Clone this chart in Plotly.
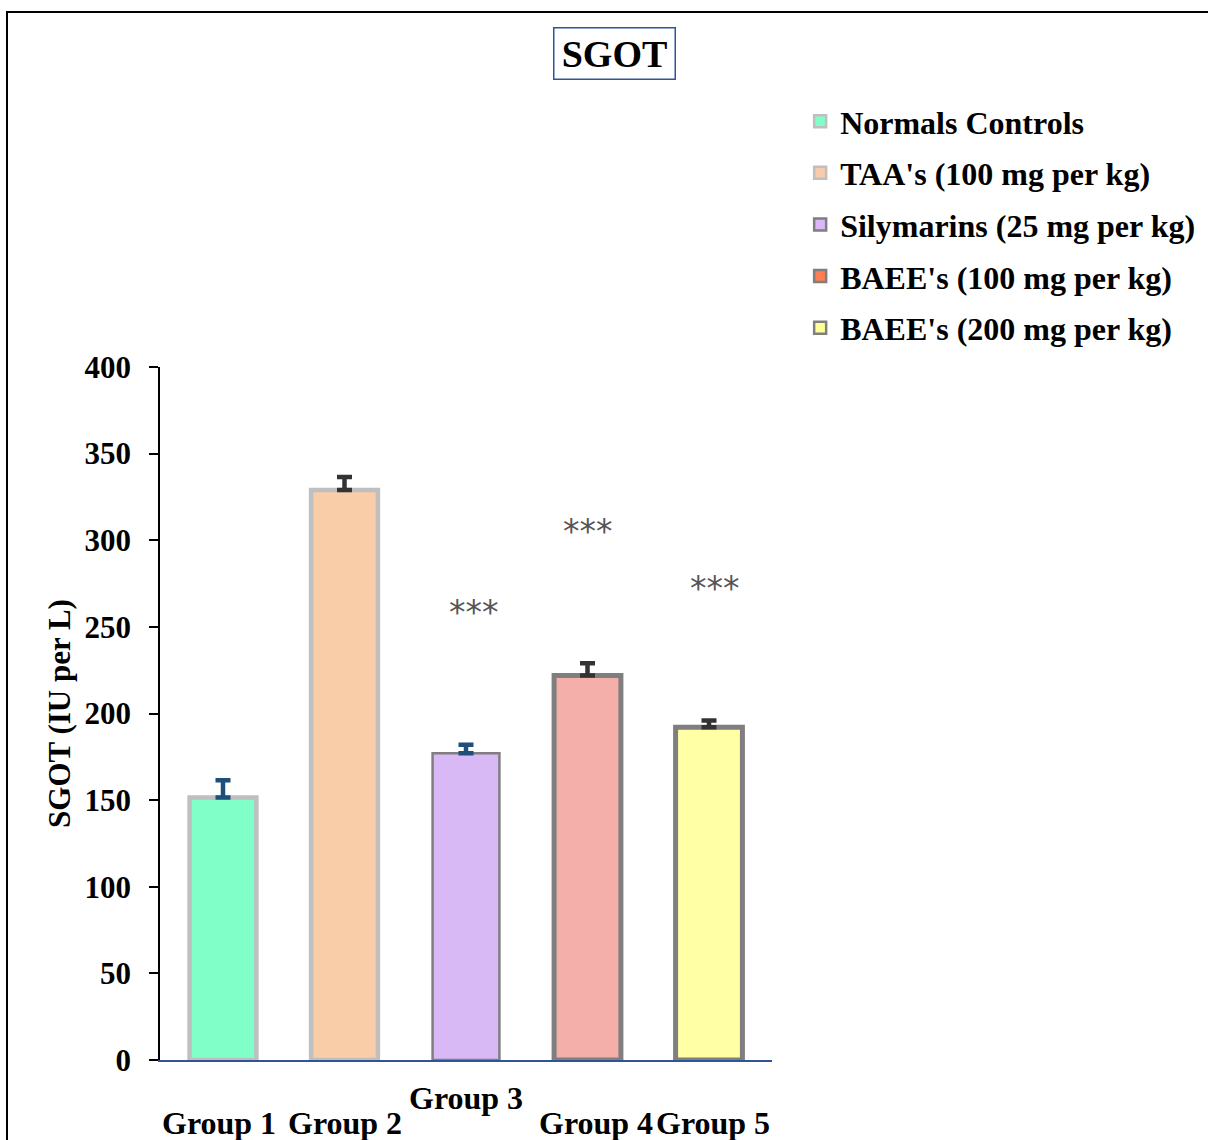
import plotly.graph_objects as go

# --- data -------------------------------------------------------------
groups = ["Group 1", "Group 2", "Group 3", "Group 4", "Group 5"]
treatments = [
    "Normals Controls",
    "TAA's (100 mg per kg)",
    "Silymarins (25 mg per kg)",
    "BAEE's (100 mg per kg)",
    "BAEE's (200 mg per kg)",
]
sgot_mean = [151.5, 329, 177, 222, 192]
sgot_sem = [10, 7.5, 5, 7, 4]
significance = ["", "", "***", "***", "***"]
y_ticks = [0, 50, 100, 150, 200, 250, 300, 350, 400]

# --- styling ----------------------------------------------------------
SERIF = "Liberation Serif, Times New Roman, serif"
bar_fill = ["#80FFC8", "#F8CDA8", "#D8B9F6", "#F5AFAA", "#FFFFA6"]
legend_fill = ["#80FFC8", "#F8CBAD", "#D9B8F7", "#FF7F50", "#FFFF99"]
edge_color = ["#BFBFBF", "#BFBFBF", "#7F7F7F", "#7F7F7F", "#7F7F7F"]
edge_width = [4.5, 4.5, 2.5, 5, 5]
err_color = ["#1F4E79", "#333333", "#1F4E79", "#333333", "#333333"]
label_nudge = [-4, 0, 0, 8, 4]   # px, keeps neighbouring category labels apart
star_nudge = [0, 0, 8, 0, 6]     # px
BAR_W = 0.55
STAR_GAP = 78  # distance of the significance marks above the error bar

fig = go.Figure()

# one bar per group, with an upper-only SEM bar
for i, g in enumerate(groups):
    fig.add_trace(go.Bar(
        x=[g], y=[sgot_mean[i]], width=BAR_W,
        marker=dict(color=bar_fill[i],
                    line=dict(color=edge_color[i], width=edge_width[i])),
        error_y=dict(type="data", symmetric=False,
                     array=[sgot_sem[i]], arrayminus=[0],
                     color=err_color[i], thickness=4.5, width=7.5),
        showlegend=False, hoverinfo="skip",
    ))

# legend entries (swatch colours follow the series key)
for i, name in enumerate(treatments):
    fig.add_trace(go.Bar(
        x=[groups[i]], y=[None], name=name, legendgroup=name,
        marker=dict(color=legend_fill[i],
                    line=dict(color=edge_color[i], width=2.5)),
        showlegend=True,
    ))

annotations = []

# significance marks
for i, g in enumerate(groups):
    if significance[i]:
        annotations.append(dict(
            x=g, xref="x", y=sgot_mean[i] + sgot_sem[i] + STAR_GAP, yref="y",
            text=significance[i], showarrow=False,
            font=dict(family="DejaVu Sans", size=33, color="#555555"),
            xanchor="center", yanchor="middle", yshift=-3,
            xshift=star_nudge[i],
        ))

# staggered category labels under the axis
for i, g in enumerate(groups):
    raised = (i == 2)
    annotations.append(dict(
        x=g, xref="x", y=0, yref="paper", text="<b>%s</b>" % g,
        showarrow=False, xanchor="center", yanchor="top",
        yshift=-18 if raised else -43, xshift=label_nudge[i],
        font=dict(family=SERIF, size=32, color="black"),
    ))

# boxed chart title
annotations.append(dict(
    x=0.7426, xref="paper", y=1.4517, yref="paper",
    text="<b>SGOT</b>", showarrow=False,
    xanchor="center", yanchor="middle",
    font=dict(family=SERIF, size=38, color="black"),
    bordercolor="#2F5597", borderwidth=1.5, borderpad=2,
    width=116, height=46, bgcolor="white",
))

fig.update_layout(
    width=1208, height=1140,
    margin=dict(l=160, r=436, t=367, b=80, autoexpand=False),
    paper_bgcolor="white", plot_bgcolor="white",
    barmode="overlay",
    font=dict(family=SERIF, color="black"),
    annotations=annotations,
    legend=dict(
        x=1.046, xanchor="left", y=1.394, yanchor="top",
        font=dict(family=SERIF, size=32, color="black", weight="bold"),
        bgcolor="rgba(0,0,0,0)", borderwidth=0,
        traceorder="grouped", tracegroupgap=7, itemwidth=30,
    ),
    shapes=[dict(
        type="rect", xref="paper", yref="paper",
        x0=-0.25, x1=1.75, y0=-0.3, y1=1.5123,
        line=dict(color="black", width=2), fillcolor="rgba(0,0,0,0)",
        layer="below",
    )],
    xaxis=dict(
        categoryorder="array", categoryarray=groups,
        showticklabels=False, ticks="",
        showline=True, linecolor="#2F5597", linewidth=1.5,
        showgrid=False, zeroline=False,
    ),
    yaxis=dict(
        range=[0, 400], tickvals=y_ticks,
        ticktext=["<b>%d</b>" % v for v in y_ticks],
        tickfont=dict(family=SERIF, size=31, color="black"),
        ticks="outside", ticklen=9, tickwidth=1.5, tickcolor="black",
        ticklabelstandoff=12,
        showline=True, linecolor="black", linewidth=1.5,
        showgrid=False, zeroline=False,
        title=dict(text="<b>SGOT (IU per L)</b>", standoff=5,
                   font=dict(family=SERIF, size=31, color="black")),
    ),
)

fig.write_html("out.html")
